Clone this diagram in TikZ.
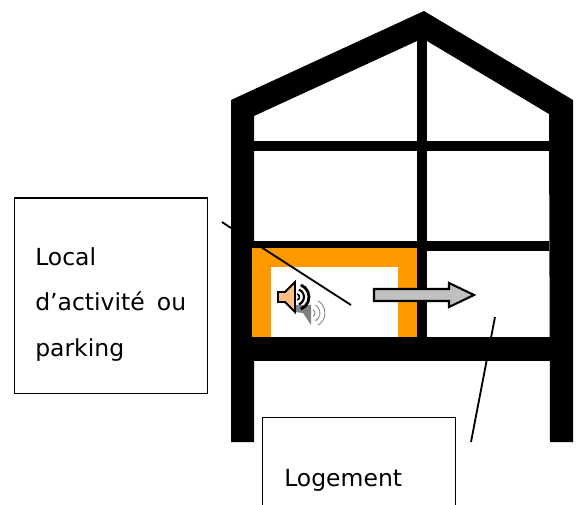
\documentclass[tikz,border=0pt]{standalone}
\usepackage{xcolor}
\usepackage{fontspec}
\setmainfont{DejaVu Sans}
\usetikzlibrary{positioning}
\definecolor{myorange}{RGB}{255,153,0}
\definecolor{mygrey}{RGB}{192,192,192}
\definecolor{myshadow}{RGB}{128,128,128}
\definecolor{mycone}{RGB}{250,190,130}
\tikzset{
  frame/.style={fill=black, draw=none},
  labelbox/.style={rectangle, draw=black, fill=white, line width=1.1pt, inner sep=0pt,
    minimum width=4.825cm, anchor=north west},
  labeltext/.style={anchor=base west, inner sep=0pt, font=\fontsize{16.7}{20}\selectfont},
  leader/.style={line width=1.3pt, color=black},
  flow/.style={draw=black, fill=mygrey, line width=1.5pt, line join=miter}
}
\begin{document}
\begin{tikzpicture}[x=0.025cm,y=-0.025cm]
  \useasboundingbox (0,0) rectangle (580,505);
  \clip (0,0) rectangle (580,505);
  % House
  \fill[frame] (231,442) -- (231,100) -- (424,11) -- (573,100) -- (573,442) -- (550,442)
    -- (549,114) -- (427,41) -- (417,41) -- (254,116) -- (254,442) -- cycle;
  \fill[frame] (417,30) rectangle (427,337);
  \fill[frame] (254,141) rectangle (549,151);
  \fill[frame] (254,241) rectangle (549,251);
  \fill[frame] (254,337) rectangle (550,361);
  % Local frame
  \fill[myorange] (252,248) rectangle (417,337);
  \fill[white] (271,267) rectangle (398,337);
  % Label boxes
  \node[labelbox, minimum height=4.875cm] (localbox) at (13.5,197.5) {};
  \node[labelbox, minimum height=3.5cm] (logementbox) at (261.5,416.5) {};
  \node[labeltext] (localtxt) at (35,266) {Local};
  \node[labeltext] (activitetxt) at (35,311) {d’activité\hspace{0.2em} ou};
  \node[labeltext] (parkingtxt) at (35,356) {parking};
  \node[labeltext] (logementtxt) at (284,486) {Logement};
  % Leaders
  \coordinate (localstart) at (222,222);
  \coordinate (localend) at (351,305);
  \coordinate (logementstart) at (471,442);
  \coordinate (logementend) at (495,317);
  \draw[leader] (localstart) -- (231,228);
  \draw[leader] (261,247) -- (localend);
  \draw[leader] (logementstart) -- (logementend);
  % Flow arrow
  \draw[flow] (374,289) -- (449,289) -- (449,283) -- (474,295) -- (449,307) -- (449,301) -- (374,301) -- cycle;
  % Grey speaker
  \fill[myshadow] (295,305) -- (311,305) -- (311,325) -- (303,313) -- (295,312) -- cycle;
  \foreach \r in {4,9,14} {
    \draw[myshadow, line width=0.6pt] (311,313) ++(-60:\r) arc[start angle=-60, end angle=60, radius=\r];
  }
  % Front speaker
  \draw[fill=mycone, line width=1.3pt, line join=miter] (278,292) -- (285,292) -- (295,282) -- (295,312) -- (285,302) -- (278,302) -- cycle;
  \foreach \r/\w in {3.5/1.1pt,8/1.5pt,13/2pt} {
    \draw[line width=\w] (296,297) ++(-68:\r) arc[start angle=-68, end angle=68, radius=\r];
  }
\end{tikzpicture}
\end{document}
